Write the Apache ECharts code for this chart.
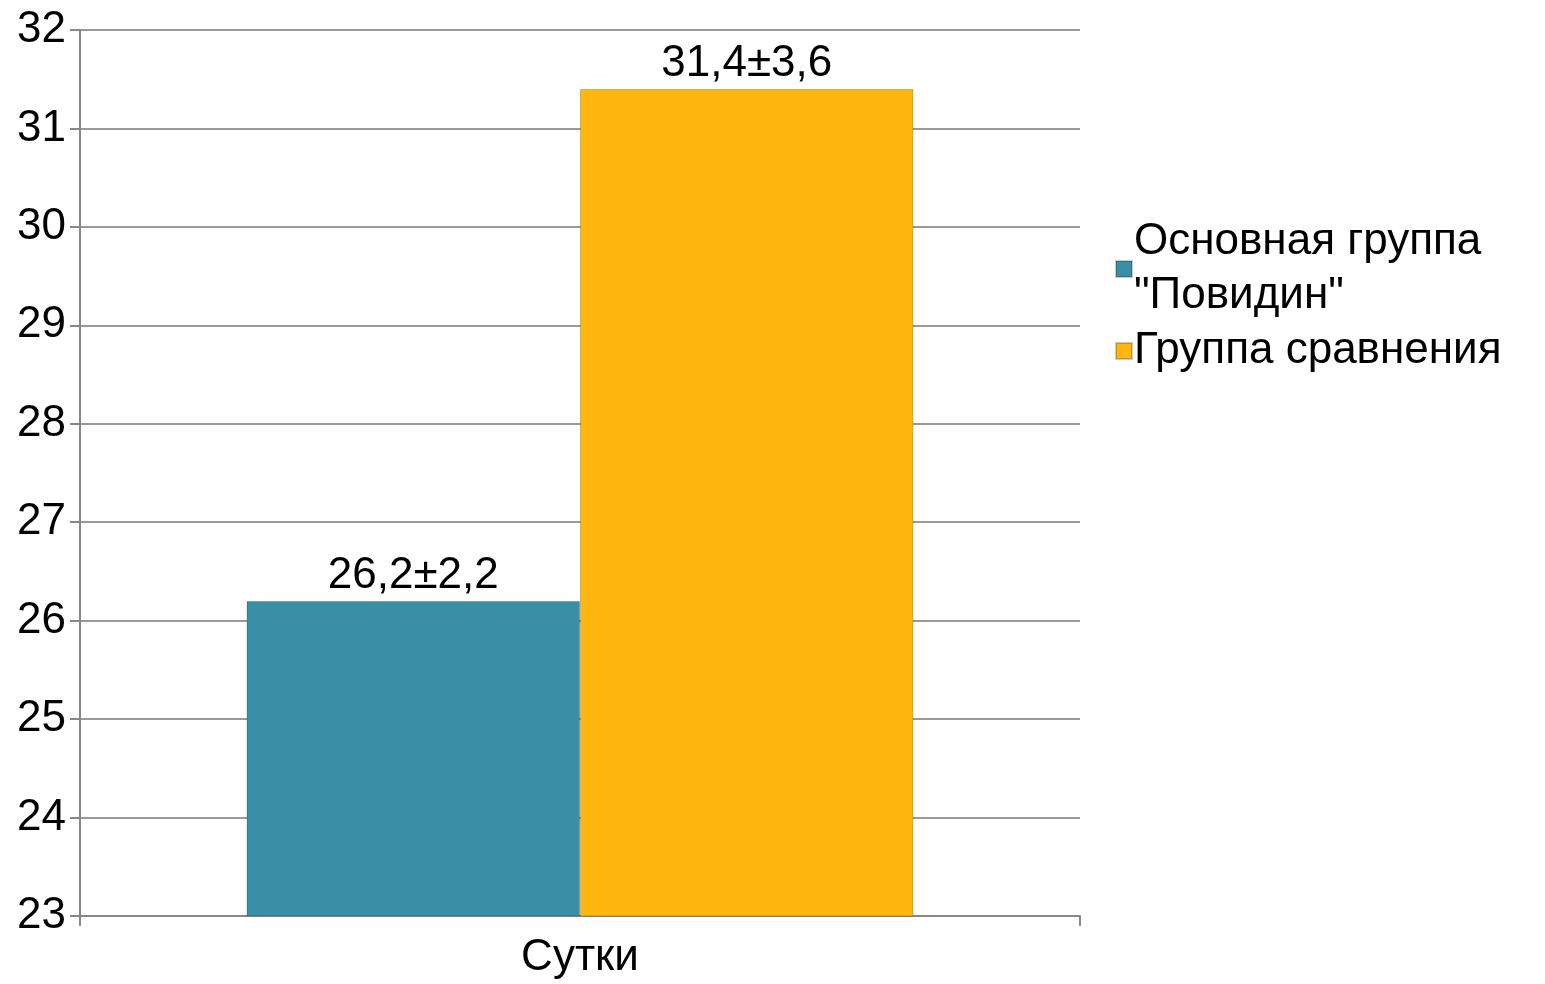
<!DOCTYPE html>
<html><head><meta charset="utf-8">
<script src="https://cdn.jsdelivr.net/npm/echarts@6/dist/echarts.min.js"></script>
<style>html,body{margin:0;padding:0;background:#fff}#c{width:1545px;height:984px}</style>
</head><body><div id="c"></div>
<script>
const categories = ['Сутки'];
const seriesNames = ['Основная группа\n"Повидин"', 'Группа сравнения'];
const mainValues = [26.2];
const compareValues = [31.4];
const mainLabels = ['26,2±2,2'];
const compareLabels = ['31,4±3,6'];
const yTicks = {min: 23, max: 32, interval: 1};

const font = 'Liberation Sans, Arial, sans-serif';
const fs = 44;
const chart = echarts.init(document.getElementById('c'));
chart.setOption({
  animation: false,
  textStyle: {fontFamily: font},
  grid: {left: 80, right: 465, top: 30, bottom: 68, containLabel: false},
  legend: {
    orient: 'vertical', left: 1110, top: 210, itemGap: 1,
    itemWidth: 16, itemHeight: 16, icon: 'rect',
    textStyle: {fontSize: fs, color: '#000', lineHeight: 54, fontFamily: font, padding: [0,0,0,-3]},
    data: seriesNames
  },
  xAxis: {
    type: 'category', data: categories,
    axisLine: {lineStyle: {color: '#888', width: 2}},
    axisTick: {show: true, length: 10, lineStyle: {color: '#888', width: 2}},
    axisLabel: {fontSize: fs, color: '#000', margin: 20, fontFamily: font}
  },
  yAxis: {
    type: 'value', min: yTicks.min, max: yTicks.max, interval: yTicks.interval,
    axisLine: {show: true, lineStyle: {color: '#888', width: 2}},
    axisTick: {show: true, length: 10, lineStyle: {color: '#888', width: 2}},
    splitLine: {lineStyle: {color: '#999', width: 2}},
    axisLabel: {fontSize: fs, color: '#000', margin: 14, fontFamily: font}
  },
  series: [
    {
      name: seriesNames[0], type: 'bar', data: mainValues,
      barGap: '0%', barCategoryGap: '33.3%',
      itemStyle: {color: '#3a8fa6', borderColor: 'rgba(0,0,0,0.2)', borderWidth: 1},
      label: {show: true, position: 'top', distance: 3, fontSize: fs, color: '#000', fontFamily: font,
        formatter: p => mainLabels[p.dataIndex]}
    },
    {
      name: seriesNames[1], type: 'bar', data: compareValues,
      barGap: '0%', barCategoryGap: '33.3%',
      itemStyle: {color: '#fdb70f', borderColor: 'rgba(0,0,0,0.2)', borderWidth: 1},
      label: {show: true, position: 'top', distance: 3, fontSize: fs, color: '#000', fontFamily: font,
        formatter: p => compareLabels[p.dataIndex]}
    }
  ]
});
</script></body></html>
